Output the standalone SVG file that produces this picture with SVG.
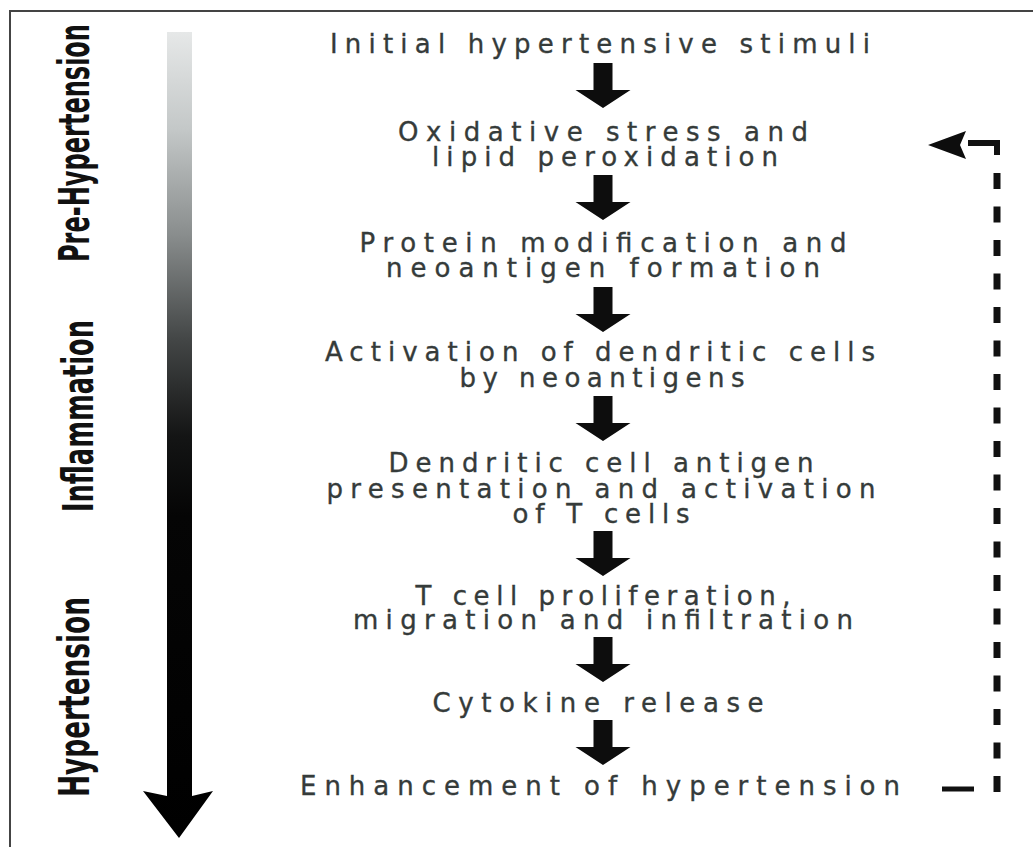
<svg xmlns="http://www.w3.org/2000/svg" width="1033" height="847" viewBox="0 0 1033 847">
<defs>
<linearGradient id="gr" x1="0" y1="32" x2="0" y2="838" gradientUnits="userSpaceOnUse">
<stop offset="0" stop-color="#e6e8e8"/>
<stop offset="0.12" stop-color="#c4c8c8"/>
<stop offset="0.25" stop-color="#8a8e8e"/>
<stop offset="0.38" stop-color="#444747"/>
<stop offset="0.5" stop-color="#141515"/>
<stop offset="0.6" stop-color="#050505"/>
<stop offset="1" stop-color="#000"/>
</linearGradient>
<path id="dn" d="M-9.5,0 H9.5 V27 H27.5 L0,45 L-27.5,27 H-9.5 Z"/>
</defs>
<style>
.t{font-family:"DejaVu Sans",Verdana,sans-serif;font-size:26px;fill:#353b3a;stroke:#353b3a;stroke-width:0.35;text-anchor:middle}
.s{font-family:"Liberation Sans Narrow","DejaVu Sans Condensed","DejaVu Sans",sans-serif;font-weight:bold;font-size:24px;fill:#111}
.a{fill:#0d0d0d}
.d{stroke:#111;stroke-width:7;fill:none}
</style>
<rect width="1033" height="847" fill="#fff"/>
<path d="M10,847 V11 H1033" stroke="#444" stroke-width="2" fill="none"/>

<g id="stage-axis">
<path d="M167,32 H192 V796 L213,791 L179,838 L143,791 L167,796 Z" fill="url(#gr)"/>
<text class="s" transform="translate(89,262) rotate(-90) scale(1,1.75)" textLength="238" lengthAdjust="spacingAndGlyphs">Pre-Hypertension</text>
<text class="s" transform="translate(93,512) rotate(-90) scale(1,1.75)" textLength="192" lengthAdjust="spacingAndGlyphs">Inflammation</text>
<text class="s" transform="translate(89,797) rotate(-90) scale(1,1.75)" textLength="200" lengthAdjust="spacingAndGlyphs">Hypertension</text>
</g>

<g id="n1"><text class="t" x="600" y="53" textLength="540" lengthAdjust="spacing">Initial hypertensive stimuli</text></g>
<g id="n2">
<text class="t" x="603" y="141" textLength="410" lengthAdjust="spacing">Oxidative stress and</text>
<text class="t" x="605" y="166" textLength="346" lengthAdjust="spacing">lipid peroxidation</text>
</g>
<g id="n3">
<text class="t" x="603" y="252" textLength="487" lengthAdjust="spacing">Protein modification and</text>
<text class="t" x="603" y="277" textLength="434" lengthAdjust="spacing">neoantigen formation</text>
</g>
<g id="n4">
<text class="t" x="600" y="361" textLength="550" lengthAdjust="spacing">Activation of dendritic cells</text>
<text class="t" x="602" y="387" textLength="285" lengthAdjust="spacing">by neoantigens</text>
</g>
<g id="n5">
<text class="t" x="601" y="472" textLength="425" lengthAdjust="spacing">Dendritic cell antigen</text>
<text class="t" x="601" y="498" textLength="549" lengthAdjust="spacing">presentation and activation</text>
<text class="t" x="601" y="523" textLength="177" lengthAdjust="spacing">of T cells</text>
</g>
<g id="n6">
<text class="t" x="603" y="605" textLength="375" lengthAdjust="spacing">T cell proliferation,</text>
<text class="t" x="603" y="629" textLength="500" lengthAdjust="spacing">migration and infiltration</text>
</g>
<g id="n7"><text class="t" x="598" y="712" textLength="331" lengthAdjust="spacing">Cytokine release</text></g>
<g id="n8"><text class="t" x="600" y="795" textLength="600" lengthAdjust="spacing">Enhancement of hypertension</text></g>

<g id="connectors">
<use href="#dn" class="a" x="603" y="63"/>
<use href="#dn" class="a" x="603" y="175"/>
<use href="#dn" class="a" x="603" y="287"/>
<use href="#dn" class="a" x="603" y="396"/>
<use href="#dn" class="a" x="603" y="531"/>
<use href="#dn" class="a" x="603" y="637"/>
<use href="#dn" class="a" x="603" y="720"/>
<g id="feedback">
<path d="M942,789 H974" stroke="#111" stroke-width="5" fill="none"/>
<path d="M997,792 V172" class="d" stroke-dasharray="16 17.5"/>
<path d="M968,143 H997 V155" stroke="#111" stroke-width="6" fill="none"/>
<path d="M928,145 L966,131 L960,145 L966,159 Z" fill="#0d0d0d"/>
</g>
</g>
</svg>
